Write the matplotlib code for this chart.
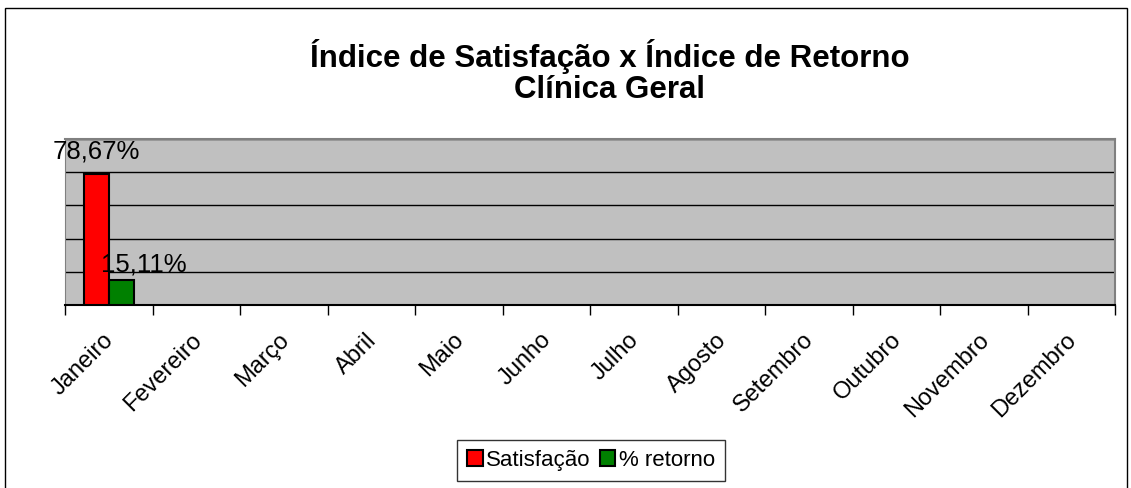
import matplotlib
matplotlib.use('Agg')
import matplotlib.pyplot as plt
import matplotlib.transforms as mtransforms
import numpy as np

plt.rcParams['font.family'] = ['Liberation Sans', 'DejaVu Sans']

meses = ['Janeiro', 'Fevereiro', 'Março', 'Abril', 'Maio', 'Junho', 'Julho',
         'Agosto', 'Setembro', 'Outubro', 'Novembro', 'Dezembro']
satisfacao = [78.67] + [np.nan] * 11
retorno = [15.11] + [np.nan] * 11
rotulos_sat = ['78,67%']
rotulos_ret = ['15,11%']

fig = plt.figure(figsize=(11.31, 4.89), dpi=100)
# moldura externa
fig.patches.append(plt.Rectangle((5 / 1131, -0.01), 1122 / 1131, 1 - 9 / 489 + 0.01,
                                 transform=fig.transFigure, fill=False,
                                 edgecolor='black', linewidth=1))

ax = fig.add_axes([65 / 1131, 1 - 306 / 489, 1050 / 1131, 166 / 489])
ax.set_facecolor('#c0c0c0')

x = np.arange(len(meses))
w = 0.285
ax.bar(x - w / 2, satisfacao, w, color='#ff0000', edgecolor='black', linewidth=1.5,
       label='Satisfação', zorder=3)
ax.bar(x + w / 2, retorno, w, color='#008000', edgecolor='black', linewidth=1.5,
       label='% retorno', zorder=3)

# rotulos de dados
ax.annotate(rotulos_sat[0], (x[0] - w / 2, satisfacao[0]), xytext=(0, 12),
            textcoords='offset points', ha='center', va='baseline', fontsize=18.5, zorder=4)
ax.annotate(rotulos_ret[0], (x[0] + w / 2, retorno[0]), xytext=(16, 6.5),
            textcoords='offset points', ha='center', va='baseline', fontsize=18.5, zorder=4)

ax.set_xlim(-0.5, len(meses) - 0.5)
ax.set_ylim(0, 100)
ax.set_yticks([0, 20, 40, 60, 80, 100])
ax.set_yticklabels([])
ax.tick_params(axis='y', length=0)
ax.yaxis.grid(True, color='black', linewidth=1, zorder=1)

ax.set_xticks(np.arange(-0.5, len(meses), 1))
ax.set_xticklabels([])
ax.tick_params(axis='x', length=7, width=1, color='black', direction='out')

# nomes dos meses inclinados
trans = mtransforms.blended_transform_factory(ax.transData, ax.transAxes) + \
    mtransforms.ScaledTranslation(-6 / 100, -23 / 100, fig.dpi_scale_trans)
for xi, mes in zip(x, meses):
    ax.text(xi, 0, mes, transform=trans, rotation=45, ha='right', va='top',
            rotation_mode='anchor', fontsize=17)

for lado in ['top', 'right']:
    ax.spines[lado].set_color('#808080')
    ax.spines[lado].set_linewidth(1.5)
ax.spines['left'].set_color('#808080')
ax.spines['bottom'].set_color('black')
ax.spines['bottom'].set_linewidth(1.5)

fig.text(610 / 1131, 1 - 72 / 489, 'Índice de Satisfação x Índice de Retorno\nClínica Geral',
         ha='center', va='center', fontsize=22.5, fontweight='bold', linespacing=1.05)

leg = fig.legend(loc='center', bbox_to_anchor=(591 / 1131, 1 - 461 / 489), ncol=2,
                 fontsize=16, frameon=True, fancybox=False, edgecolor='black',
                 handlelength=0.7, handleheight=0.7, handletextpad=0.15,
                 columnspacing=0.4, borderpad=0.45, borderaxespad=0)
leg.get_frame().set_linewidth(1)

fig.savefig('out.png', dpi=100)
